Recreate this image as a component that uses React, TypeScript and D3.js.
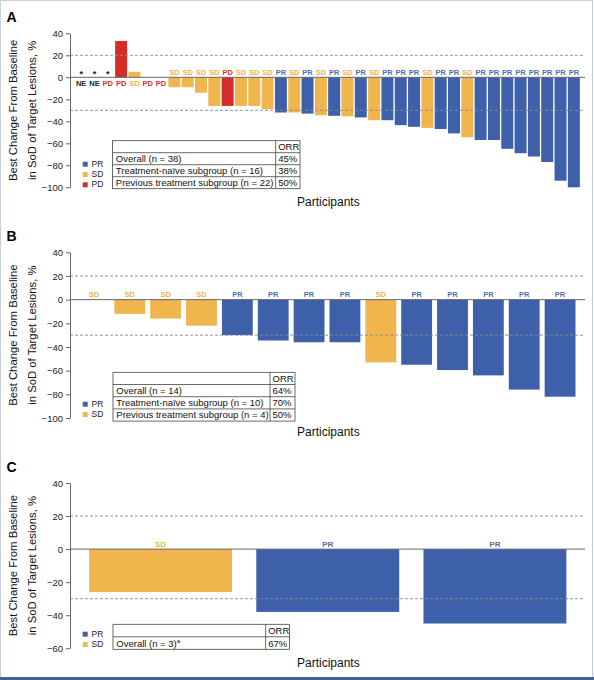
import React, { useEffect, useRef } from "react";
import * as d3 from "d3";

// ---- data ----
const statusA = [
  "NE", "NE", "PD", "PD", "SD", "PD", "PD", "SD", "SD", "SD",
  "SD", "PD", "SD", "SD", "SD", "PR", "SD", "PR", "SD", "PR",
  "SD", "PR", "SD", "PR", "PR", "PR", "SD", "PR", "PR", "SD",
  "PR", "PR", "PR", "PR", "PR", "PR", "PR", "PR",
];
// null = no measurable bar
const valuesA: (number | null)[] = [
  null, null, null, 33, 5, null, null, -9, -9, -14,
  -26, -26, -26, -26, -29, -32, -32, -33, -34.5, -35,
  -35.5, -36.5, -39, -39, -43.5, -45, -46, -47, -51, -54.5,
  -57, -57, -65, -69, -72, -77, -94, -100,
];
const asteriskA = [0, 1, 2];

const statusB = ["SD", "SD", "SD", "SD", "PR", "PR", "PR", "PR", "SD", "PR", "PR", "PR", "PR", "PR"];
const valuesB: (number | null)[] = [0, -12, -16, -22, -30, -34.5, -36, -36, -53, -55, -59.5, -64, -76, -82];

const statusC = ["SD", "PR", "PR"];
const valuesC: (number | null)[] = [-26, -38, -45];

const ticksAB = [40, 20, 0, -20, -40, -60, -80, -100];
const ticksC = [40, 20, 0, -20, -40, -60];
const refLines = [20, -30];

const tableA = [
  ["Overall (n = 38)", "45%"],
  ["Treatment-naïve subgroup (n = 16)", "38%"],
  ["Previous treatment subgroup (n = 22)", "50%"],
];
const tableB = [
  ["Overall (n = 14)", "64%"],
  ["Treatment-naïve subgroup (n = 10)", "70%"],
  ["Previous treatment subgroup (n = 4)", "50%"],
];
const tableC = [["Overall (n = 3)", "67%"]];

const legendA = ["PR", "SD", "PD"];
const legendBC = ["PR", "SD"];

const FILL: Record<string, string> = { PR: "#3e5fa9", SD: "#f1b54d", PD: "#d62d29" };
const TEXT: Record<string, string> = { PR: "#4f6fb4", SD: "#f0b34a", PD: "#d62d29", NE: "#222" };
const FONT = "'Liberation Sans', Arial, sans-serif";

interface Panel {
  letter: string;
  letterY: number;
  status: string[];
  values: (number | null)[];
  asterisks: number[];
  ticks: number[];
  yDomain: [number, number];
  yRange: [number, number];
  xRange: [number, number];
  pad: number;
  labelSize: number;
  table: string[][];
  tableBox: { x: number; y: number; w: number; div: number; rowH: number; supA?: boolean };
  legend: string[];
  legendY: number;
  partY: number;
}

const panels: Panel[] = [
  {
    letter: "A", letterY: 22, status: statusA, values: valuesA, asterisks: asteriskA,
    ticks: ticksAB, yDomain: [-100, 40], yRange: [187.3, 33.3], xRange: [74.5, 580.5], pad: 0.1,
    labelSize: 7.5, table: tableA, tableBox: { x: 112.5, y: 140.7, w: 187.5, div: 275.7, rowH: 12 },
    legend: legendA, legendY: 161.7, partY: 206,
  },
  {
    letter: "B", letterY: 241, status: statusB, values: valuesB, asterisks: [],
    ticks: ticksAB, yDomain: [-100, 40], yRange: [418, 252.3], xRange: [76, 578], pad: 0.14,
    labelSize: 7.5, table: tableB, tableBox: { x: 113, y: 372.3, w: 182, div: 270, rowH: 12.2 },
    legend: legendBC, legendY: 401.7, partY: 436,
  },
  {
    letter: "C", letterY: 472, status: statusC, values: valuesC, asterisks: [],
    ticks: ticksC, yDomain: [-60, 40], yRange: [648.3, 483], xRange: [77, 578.5], pad: 0.145,
    labelSize: 8, table: tableC, tableBox: { x: 113, y: 624.3, w: 176.5, div: 265.7, rowH: 12.5, supA: true },
    legend: legendBC, legendY: 631.7, partY: 667,
  },
];

function drawPanel(svg: d3.Selection<SVGSVGElement, unknown, null, undefined>, p: Panel) {
  const g = svg.append("g").attr("font-family", FONT);
  const y = d3.scaleLinear().domain(p.yDomain).range(p.yRange);
  const x = d3
    .scaleBand<number>()
    .domain(d3.range(p.values.length))
    .range(p.xRange)
    .paddingInner(p.pad)
    .paddingOuter(p.pad / 2);
  const y0 = y(0);
  const axisX = 70;
  const lineEnd = 585;

  g.append("text")
    .attr("x", 6.5)
    .attr("y", p.letterY)
    .attr("font-size", 14)
    .attr("font-weight", "bold")
    .text(p.letter);

  // y title
  const cy = (p.yRange[0] + p.yRange[1]) / 2;
  g.append("text")
    .attr("transform", `translate(17,${cy}) rotate(-90)`)
    .attr("text-anchor", "middle")
    .attr("font-size", 11.3)
    .attr("fill", "#111")
    .text("Best Change From Baseline");
  g.append("text")
    .attr("transform", `translate(35.5,${cy}) rotate(-90)`)
    .attr("text-anchor", "middle")
    .attr("font-size", 11.3)
    .attr("fill", "#111")
    .text("in SoD of Target Lesions, %");

  // bars
  g.selectAll("rect.bar")
    .data(p.values.map((v, i) => ({ v, i })).filter((d) => d.v !== null && d.v !== 0))
    .enter()
    .append("rect")
    .attr("class", "bar")
    .attr("x", (d) => x(d.i)!)
    .attr("width", x.bandwidth())
    .attr("y", (d) => y(Math.max(0, d.v as number)))
    .attr("height", (d) => Math.abs(y(d.v as number) - y0))
    .attr("fill", (d) => FILL[p.status[d.i]]);

  // reference lines drawn over bars
  refLines.forEach((r) => {
    g.append("line")
      .attr("x1", axisX)
      .attr("x2", lineEnd)
      .attr("y1", y(r))
      .attr("y2", y(r))
      .attr("stroke", "#8a8a8a")
      .attr("stroke-width", 0.9)
      .attr("stroke-dasharray", "3,2");
  });
  g.append("line")
    .attr("x1", axisX)
    .attr("x2", lineEnd)
    .attr("y1", y0)
    .attr("y2", y0)
    .attr("stroke", "#666")
    .attr("stroke-width", 1);

  // axis
  const axis = d3
    .axisLeft(y)
    .tickValues(p.ticks)
    .tickSize(4)
    .tickSizeOuter(0)
    .tickPadding(3)
    .tickFormat(d3.format("d"));
  const ag = g.append("g").attr("transform", `translate(${axisX},0)`).call(axis);
  ag.select(".domain").attr("stroke", "#666");
  ag.selectAll(".tick line").attr("stroke", "#666");
  ag.selectAll(".tick text").attr("font-size", 9.5).attr("fill", "#222").attr("font-family", FONT);

  // response labels
  g.selectAll("text.resp")
    .data(p.status.map((s, i) => ({ s, i, v: p.values[i] })))
    .enter()
    .append("text")
    .attr("class", "resp")
    .attr("x", (d) => x(d.i)! + x.bandwidth() / 2)
    .attr("y", (d) => (d.v === null || d.v > 0 ? y0 + 8.5 : y0 - 2.5))
    .attr("text-anchor", "middle")
    .attr("font-size", p.labelSize)
    .attr("font-weight", "bold")
    .attr("fill", (d) => TEXT[d.s])
    .text((d) => d.s);

  g.selectAll("text.ast")
    .data(p.asterisks)
    .enter()
    .append("text")
    .attr("class", "ast")
    .attr("x", (i) => x(i)! + x.bandwidth() / 2)
    .attr("y", y0 - 0.5)
    .attr("text-anchor", "middle")
    .attr("font-size", 9)
    .attr("font-weight", "bold")
    .attr("fill", "#222")
    .text("*");

  // legend
  p.legend.forEach((k, i) => {
    const ly = p.legendY + i * 10.3;
    g.append("rect").attr("x", 82.7).attr("y", ly).attr("width", 5).attr("height", 5).attr("fill", FILL[k]);
    g.append("text")
      .attr("x", 91.5)
      .attr("y", ly + 5)
      .attr("font-size", 8.5)
      .attr("fill", "#222")
      .text(k);
  });

  // table
  const tb = p.tableBox;
  const nRows = p.table.length + 1;
  const tg = g.append("g").attr("font-size", 9.5).attr("fill", "#111");
  tg.append("rect")
    .attr("x", tb.x)
    .attr("y", tb.y)
    .attr("width", tb.w)
    .attr("height", tb.rowH * nRows)
    .attr("fill", "#fff")
    .attr("stroke", "#444")
    .attr("stroke-width", 0.8);
  for (let r = 1; r < nRows; r++) {
    tg.append("line")
      .attr("x1", tb.x)
      .attr("x2", tb.x + tb.w)
      .attr("y1", tb.y + r * tb.rowH)
      .attr("y2", tb.y + r * tb.rowH)
      .attr("stroke", "#444")
      .attr("stroke-width", 0.8);
  }
  tg.append("line")
    .attr("x1", tb.div)
    .attr("x2", tb.div)
    .attr("y1", tb.y)
    .attr("y2", tb.y + tb.rowH * nRows)
    .attr("stroke", "#444")
    .attr("stroke-width", 0.8);
  tg.append("text")
    .attr("x", tb.div + 2.5)
    .attr("y", tb.y + tb.rowH - 2.8)
    .text("ORR");
  p.table.forEach((row, r) => {
    const by = tb.y + (r + 2) * tb.rowH - 2.8;
    const t = tg.append("text").attr("x", tb.x + 3.3).attr("y", by).text(row[0]);
    if (tb.supA) t.append("tspan").attr("font-size", 6).attr("dy", -3.5).text("a");
    tg.append("text").attr("x", tb.div + 2.5).attr("y", by).text(row[1]);
  });

  g.append("text")
    .attr("x", 297)
    .attr("y", p.partY)
    .attr("font-size", 12)
    .attr("fill", "#111")
    .text("Participants");
}

const App: React.FC = () => {
  const ref = useRef<SVGSVGElement | null>(null);

  useEffect(() => {
    const svg = d3.select(ref.current!);
    svg.selectAll("*").remove();
    svg.append("rect").attr("width", 594).attr("height", 680).attr("fill", "#fff");
    svg
      .append("rect")
      .attr("x", 0.5)
      .attr("y", 0.5)
      .attr("width", 592)
      .attr("height", 677)
      .attr("fill", "none")
      .attr("stroke", "#c5d2de");
    svg.append("rect").attr("x", 0).attr("y", 677).attr("width", 594).attr("height", 3).attr("fill", "#3b6492");
    panels.forEach((p) => drawPanel(svg, p));
  }, []);

  return (
    <svg
      ref={ref}
      width={594}
      height={680}
      style={{ position: "absolute", left: 0, top: 0, display: "block" }}
    />
  );
};

export default App;
